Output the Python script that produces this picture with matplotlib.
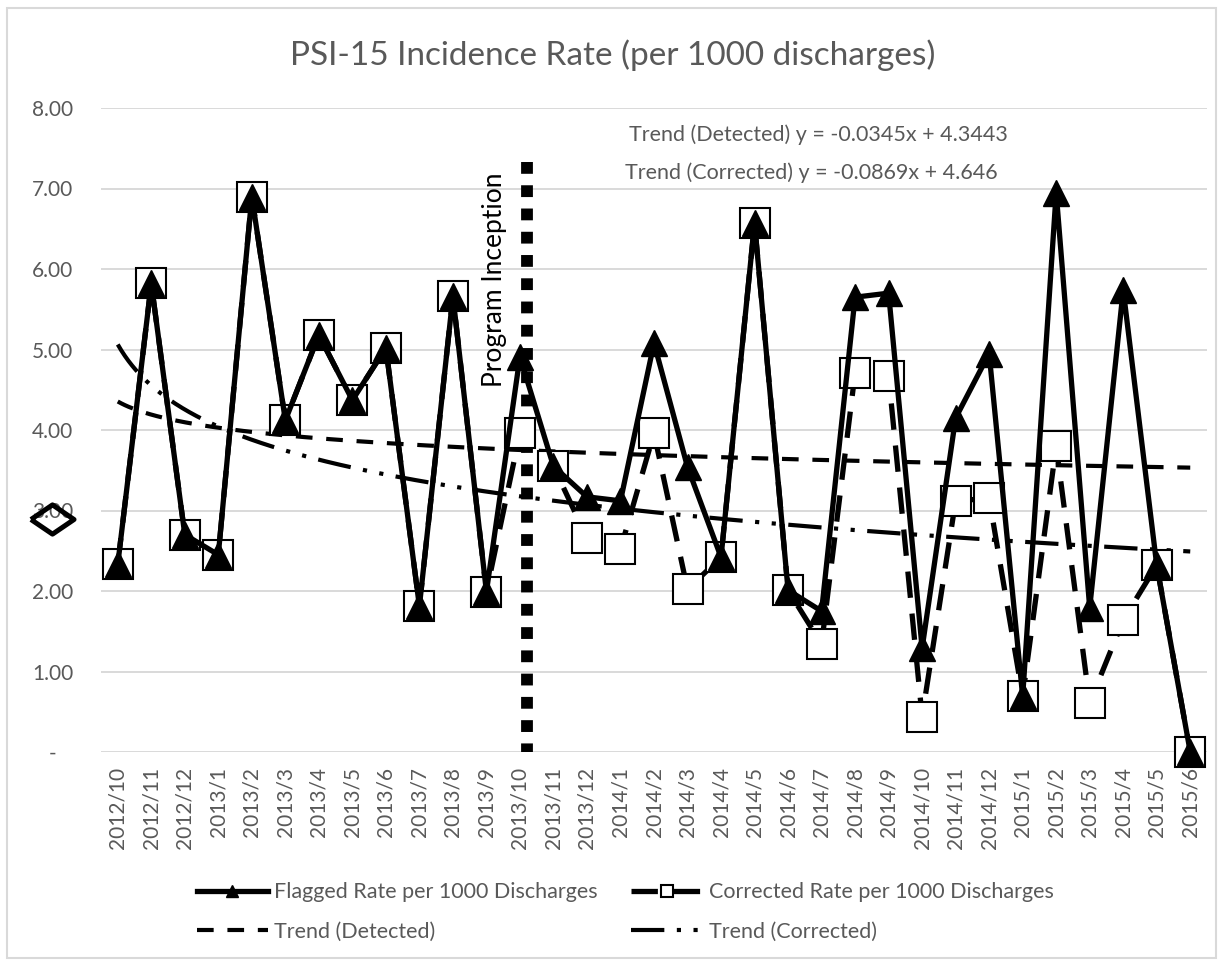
import numpy as np
import matplotlib
matplotlib.use("Agg")
import matplotlib.pyplot as plt
from matplotlib.patches import Rectangle

plt.rcParams['font.family'] = ['Lato', 'DejaVu Sans']

# data
months = ['2012/10', '2012/11', '2012/12', '2013/1', '2013/2', '2013/3', '2013/4',
          '2013/5', '2013/6', '2013/7', '2013/8', '2013/9', '2013/10', '2013/11',
          '2013/12', '2014/1', '2014/2', '2014/3', '2014/4', '2014/5', '2014/6',
          '2014/7', '2014/8', '2014/9', '2014/10', '2014/11', '2014/12', '2015/1',
          '2015/2', '2015/3', '2015/4', '2015/5', '2015/6']
flagged = [2.33, 5.82, 2.70, 2.45, 6.90, 4.12, 5.18, 4.37, 5.02, 1.81, 5.66, 1.99,
           4.91, 3.55, 3.17, 3.12, 5.08, 3.54, 2.42, 6.57, 2.01, 1.75, 5.65, 5.70,
           1.29, 4.15, 4.95, 0.69, 6.95, 1.79, 5.74, 2.32, 0.00]
corrected = [2.33, 5.82, 2.70, 2.45, 6.90, 4.12, 5.18, 4.37, 5.02, 1.81, 5.66, 1.99,
             3.96, 3.55, 2.66, 2.52, 3.96, 2.02, 2.42, 6.57, 2.01, 1.34, 4.71, 4.67,
             0.44, 3.12, 3.15, 0.69, 3.80, 0.61, 1.64, 2.32, 0.00]
ytick_values = [0, 1, 2, 3, 4, 5, 6, 7, 8]
ytick_labels = ['-   ', '1.00', '2.00', '3.00', '4.00', '5.00', '6.00', '7.00', '8.00']
inception_month = 12.2
inception_top = 7.33
eq_detected = 'Trend (Detected) y = -0.0345x + 4.3443'
eq_corrected = 'Trend (Corrected) y = -0.0869x + 4.646'

GRAY = '#595959'

fig = plt.figure(figsize=(12.26, 9.66), dpi=100)
W, H = 1226, 966
ax = fig.add_axes([101 / W, 1 - 752 / H, 1106 / W, 644 / H])

x = np.arange(len(months))

# logarithmic trend lines fitted to each series
t = np.arange(1, len(months) + 1)
det_a, det_b = np.polyfit(np.log(t), flagged, 1)
cor_a, cor_b = np.polyfit(np.log(t), corrected, 1)
tt = np.linspace(1, len(months), 300)

trend_det, = ax.plot(tt - 1, det_a * np.log(tt) + det_b, color='black', lw=3,
                     dashes=(4, 3.3), zorder=2, label='Trend (Detected)')
trend_cor, = ax.plot(tt - 1, cor_a * np.log(tt) + cor_b, color='black', lw=3,
                     dashes=(8, 3, 1, 3, 1, 3), zorder=2, label='Trend (Corrected)')

# program inception marker (drawn top-down so the top dot is complete)
ax.plot([inception_month, inception_month], [inception_top, 0], color='black',
        lw=8.5, dashes=(1, 0.97), solid_capstyle='butt', dash_capstyle='butt', zorder=2.2)
ax.text(inception_month - 0.95, 4.53, 'Program Inception', rotation=90,
        ha='center', va='bottom', fontsize=19, color='black', zorder=5)

corr_line, = ax.plot(x, corrected, color='black', lw=3.8, dashes=(5, 3),
                     marker='s', ms=21, mfc='white', mec='black', mew=1.5,
                     zorder=3, clip_on=False, label='Corrected Rate per 1000 Discharges')
flag_line, = ax.plot(x, flagged, color='black', lw=3.8, marker='^', ms=19,
                     zorder=4, clip_on=False, label='Flagged Rate per 1000 Discharges')

# stray diamond next to the y axis
diamond = [(-1, 0), (0, 0.68), (1, 0), (0, -0.68), (-1, 0)]
ax.plot([-1.955], [2.90], marker=diamond, ms=31, mfc='none', mec='black',
        mew=3.6, clip_on=False, zorder=6)

ax.set_xlim(-0.5, len(months) - 0.5)
ax.set_ylim(0, 8)
ax.set_xticks(x)
ax.set_xticklabels(months, rotation=90, fontsize=15, color=GRAY)
ax.set_yticks(ytick_values)
ax.set_yticklabels(ytick_labels, fontsize=15, color=GRAY)
ax.tick_params(axis='x', length=0, pad=11)
ax.tick_params(axis='y', length=0, pad=20)
ax.grid(axis='y', color='#D9D9D9', lw=1.4)
ax.set_axisbelow(True)
for s in ax.spines.values():
    s.set_visible(False)

fig.text(0.5, 1 - 65 / H, 'PSI-15 Incidence Rate (per 1000 discharges)',
         ha='center', va='baseline', fontsize=24, color=GRAY)
fig.text(818 / W, 1 - 135 / H, eq_detected, ha='center', va='center',
         fontsize=15.5, color=GRAY)
fig.text(811 / W, 1 - 173 / H, eq_corrected, ha='center', va='center',
         fontsize=15.5, color=GRAY)

fig.legend([flag_line, trend_det, corr_line, trend_cor],
           [flag_line.get_label(), trend_det.get_label(),
            corr_line.get_label(), trend_cor.get_label()],
           loc='center', bbox_to_anchor=(625 / W, 1 - 912 / H), ncol=2,
           frameon=False, fontsize=15.5, labelcolor=GRAY, markerscale=0.42,
           handlelength=3.3, handletextpad=0.3, columnspacing=1.55,
           labelspacing=0.9)

fig.patches.append(Rectangle((7 / W, 8 / H), 1209 / W, 950 / H,
                             transform=fig.transFigure, fill=False,
                             edgecolor='#D9D9D9', lw=1.5))

fig.savefig('out.png', dpi=100)
